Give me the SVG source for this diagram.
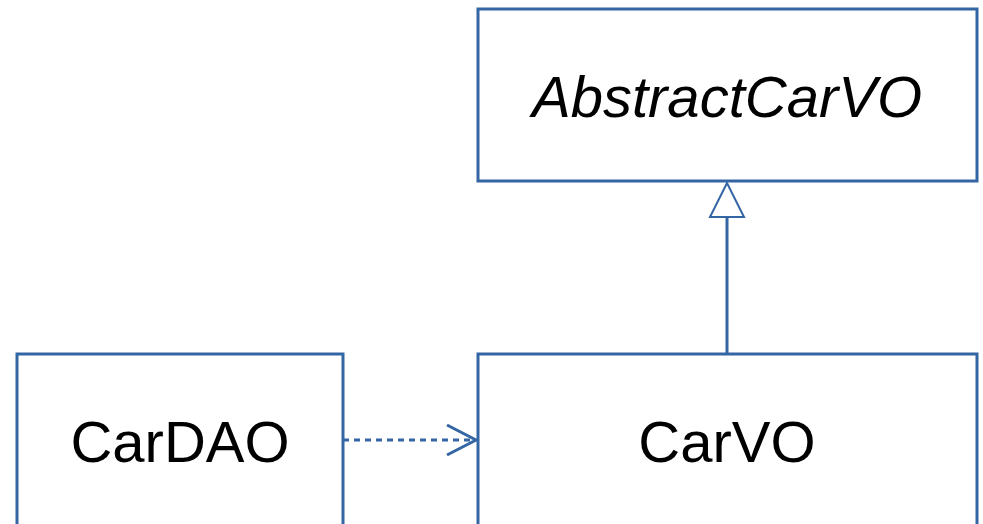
<svg xmlns="http://www.w3.org/2000/svg" width="983" height="524" viewBox="0 0 983 524">
  <style>
    .box { fill: #ffffff; stroke: #3465a4; stroke-width: 3; }
    .label { font-family: "Liberation Sans", Arial, sans-serif; font-size: 58px; fill: #000000; text-anchor: middle; }
    .edge { stroke: #3465a4; stroke-width: 3; fill: none; }
    .head { stroke: #3465a4; stroke-width: 2; fill: #ffffff; }
  </style>
  <rect width="983" height="524" fill="#ffffff"/>
  <g id="AbstractCarVO">
    <rect class="box" x="478" y="9" width="499" height="172"/>
    <text class="label" x="727" y="117" font-style="italic">AbstractCarVO</text>
  </g>
  <g id="CarVO">
    <rect class="box" x="478" y="354" width="499" height="200"/>
    <text class="label" x="727" y="462">CarVO</text>
  </g>
  <g id="CarDAO">
    <rect class="box" x="17" y="354" width="326" height="200"/>
    <text class="label" x="180" y="462">CarDAO</text>
  </g>
  <g id="connectors">
    <!-- generalization: CarVO to AbstractCarVO -->
    <line class="edge" x1="727" y1="354" x2="727" y2="217"/>
    <polygon class="head" points="727,183 744,217 710,217"/>
    <!-- dependency: CarDAO to CarVO -->
    <line class="edge" x1="343" y1="440" x2="476" y2="440" stroke-dasharray="6,5"/>
    <polyline class="edge" stroke-width="2" points="447,425 476,440 447,455"/>
  </g>
</svg>
